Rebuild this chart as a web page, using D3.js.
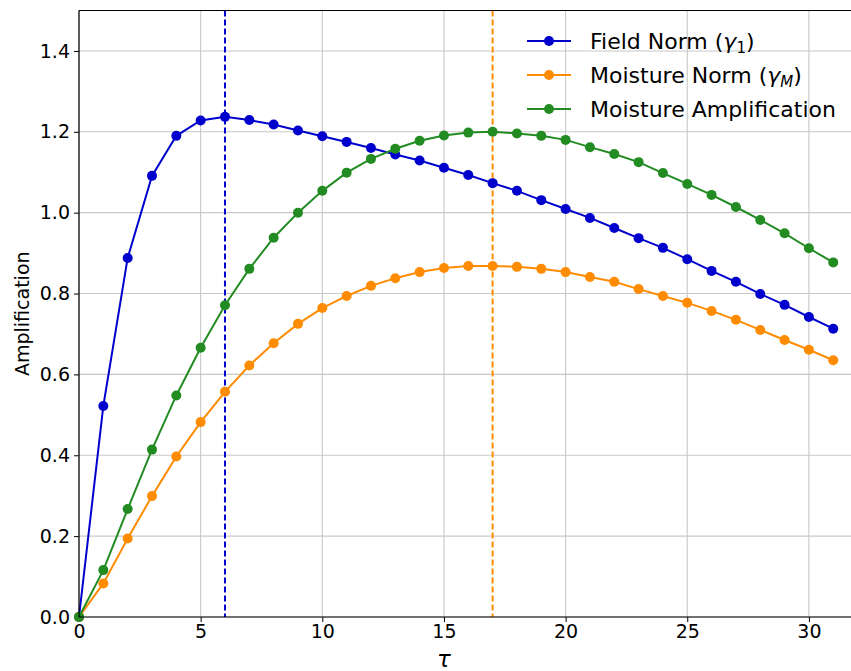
<!DOCTYPE html>
<html><head><meta charset="utf-8">
<script src="https://cdn.jsdelivr.net/npm/d3@7"></script>
<style>body{margin:0;background:#fff;} svg{display:block;font-family:"DejaVu Sans",sans-serif;}</style>
</head><body>
<svg id="c" width="851" height="671"></svg>
<script>
const tau = d3.range(0, 32);
const fieldNorm = [0,0.522,0.888,1.091,1.190,1.228,1.237,1.229,1.218,1.203,1.189,1.175,1.160,1.144,1.129,1.111,1.093,1.073,1.054,1.031,1.009,0.987,0.962,0.937,0.913,0.885,0.856,0.829,0.799,0.772,0.742,0.713];
const moistureNorm = [0,0.083,0.194,0.299,0.397,0.482,0.557,0.622,0.677,0.725,0.764,0.794,0.819,0.838,0.853,0.863,0.868,0.868,0.866,0.861,0.853,0.841,0.829,0.811,0.794,0.777,0.757,0.735,0.710,0.685,0.661,0.635];
const moistureAmp = [0,0.116,0.267,0.414,0.548,0.666,0.771,0.861,0.938,1.000,1.054,1.099,1.133,1.158,1.178,1.191,1.198,1.200,1.196,1.190,1.180,1.162,1.145,1.125,1.098,1.071,1.044,1.014,0.982,0.949,0.912,0.877];
const xTicks = [0,5,10,15,20,25,30];
const yTicks = [0,0.2,0.4,0.6,0.8,1.0,1.2,1.4];
const vLines = [{x:6,color:"#0000cd"},{x:17,color:"#ff8c00"}];
const series = [
  {name:"Field Norm", sub:"1", data:fieldNorm, color:"#0000cd"},
  {name:"Moisture Norm", sub:"M", data:moistureNorm, color:"#ff8c00"},
  {name:"Moisture Amplification", sub:null, data:moistureAmp, color:"#228b22"}
];

const svg = d3.select("#c");
const L=79, T=10.5, B=617, R=851;
const x = d3.scaleLinear().domain([0, 31.73]).range([L, R]);
const y = d3.scaleLinear().domain([0, 1.5]).range([B, T]);

// grid
svg.append("g").selectAll("line").data(xTicks).join("line")
  .attr("x1",d=>x(d)).attr("x2",d=>x(d)).attr("y1",T).attr("y2",B)
  .attr("stroke","#c8c8c8").attr("stroke-width",1.1);
svg.append("g").selectAll("line").data(yTicks).join("line")
  .attr("x1",L).attr("x2",R).attr("y1",d=>y(d)).attr("y2",d=>y(d))
  .attr("stroke","#c8c8c8").attr("stroke-width",1.1);

// axes
const xAxis = d3.axisBottom(x).tickValues(xTicks).tickFormat(d3.format("d")).tickSize(5).tickPadding(3);
const yAxis = d3.axisLeft(y).tickValues(yTicks).tickFormat(d3.format(".1f")).tickSize(5).tickPadding(4);
const gx = svg.append("g").attr("transform",`translate(0,${B})`).call(xAxis);
const gy = svg.append("g").attr("transform",`translate(${L},0)`).call(yAxis);
[gx,gy].forEach(g=>{
  g.select(".domain").remove();
  g.selectAll("text").attr("font-size",19).attr("font-family","DejaVu Sans").attr("fill","#000");
  g.selectAll("line").attr("stroke","#000").attr("stroke-width",1);
});

// vertical dashed lines
svg.append("g").selectAll("line").data(vLines).join("line")
  .attr("x1",d=>x(d.x)).attr("x2",d=>x(d.x)).attr("y1",T).attr("y2",B)
  .attr("stroke",d=>d.color).attr("stroke-width",2).attr("stroke-dasharray","6,3");

// series
const line = d3.line().x((d,i)=>x(tau[i])).y(d=>y(d));
series.forEach(s=>{
  svg.append("path").attr("d",line(s.data)).attr("fill","none").attr("stroke",s.color).attr("stroke-width",2);
  svg.append("g").selectAll("circle").data(s.data).join("circle")
    .attr("cx",(d,i)=>x(tau[i])).attr("cy",d=>y(d)).attr("r",5).attr("fill",s.color);
});

// spines
svg.append("line").attr("x1",L).attr("x2",L).attr("y1",T).attr("y2",B).attr("stroke","#000").attr("stroke-width",1.2);
svg.append("line").attr("x1",L).attr("x2",R).attr("y1",T).attr("y2",T).attr("stroke","#000").attr("stroke-width",1.2);
svg.append("line").attr("x1",L).attr("x2",R).attr("y1",B).attr("y2",B).attr("stroke","#000").attr("stroke-width",1.2);

// labels
svg.append("text").attr("transform",`translate(29,${(T+B)/2}) rotate(-90)`).attr("text-anchor","middle")
  .attr("font-size",19).text("Amplification");
svg.append("text").attr("x",x(15)).attr("y",667).attr("text-anchor","middle")
  .attr("font-size",23).attr("font-style","italic").text("τ");

// legend
const lg = svg.append("g");
series.forEach((s,i)=>{
  const yy = 41 + i*34;
  lg.append("line").attr("x1",527).attr("x2",571).attr("y1",yy).attr("y2",yy).attr("stroke",s.color).attr("stroke-width",2);
  lg.append("circle").attr("cx",549).attr("cy",yy).attr("r",5).attr("fill",s.color);
  const t = lg.append("text").attr("x",590).attr("y",yy+7.5).attr("font-size",22).attr("fill","#000");
  t.append("tspan").text(s.name);
  if (s.sub){
    t.append("tspan").text(" (");
    t.append("tspan").attr("font-style","italic").text("γ");
    t.append("tspan").attr("font-size",15).attr("dy",4).attr("font-style", s.sub==="M"?"italic":"normal").text(s.sub);
    t.append("tspan").attr("dy",-4).text(")");
  }
});
</script>
</body></html>
